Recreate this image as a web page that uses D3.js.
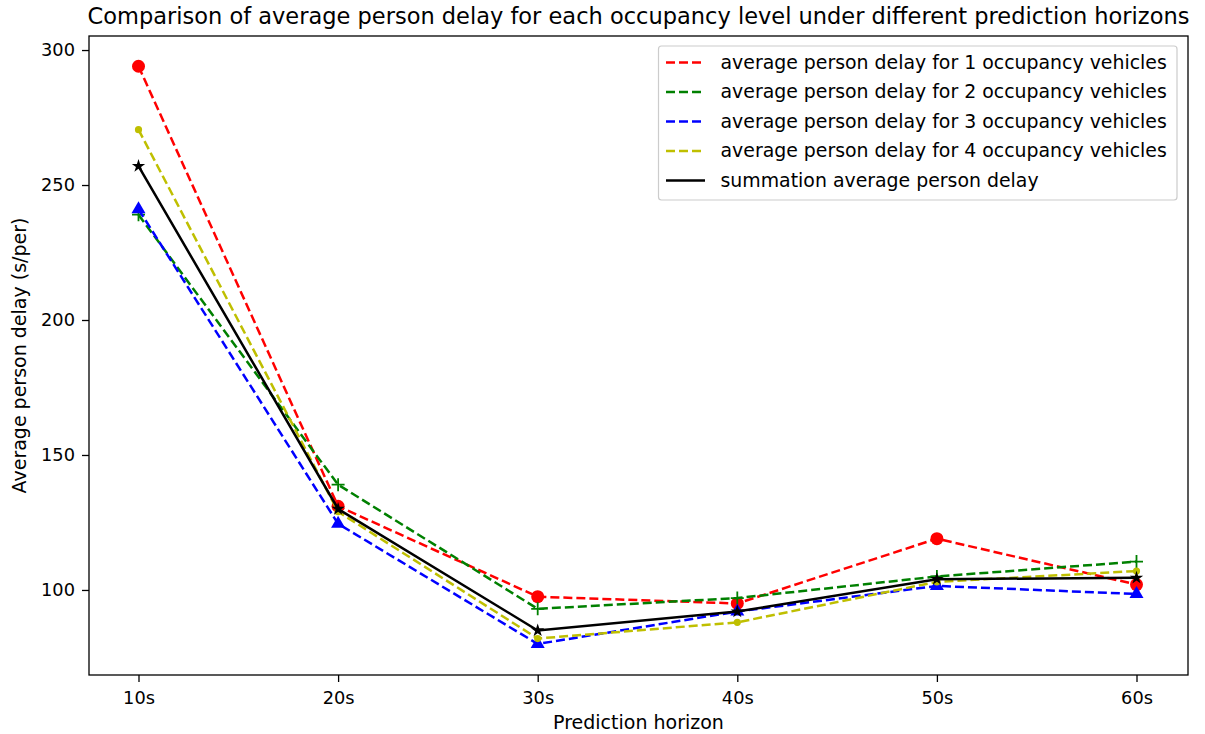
<!DOCTYPE html>
<html>
<head>
<meta charset="utf-8">
<script src="https://cdn.jsdelivr.net/npm/d3@7"></script>
<style>
  body { margin: 0; background: #fff; }
  text { font-family: "DejaVu Sans", sans-serif; fill: #000; }
</style>
</head>
<body>
<svg id="chart" width="1205" height="734"></svg>
<script>
// horizons on the x axis
var horizons = ["10s", "20s", "30s", "40s", "50s", "60s"];
var yTicks = [100, 150, 200, 250, 300];

// average person delay (s/per)
var occ1 = [294, 131, 97.5, 95, 119, 102];
var occ2 = [239, 139, 93, 97, 105, 110.5];
var occ3 = [241, 124.5, 80, 92, 101.5, 98.5];
var occ4 = [270.5, 129, 82, 88, 103, 107];
var total = [257, 130, 85, 92, 104, 104.5];

var seriesNames = [
  "average person delay for 1 occupancy vehicles",
  "average person delay for 2 occupancy vehicles",
  "average person delay for 3 occupancy vehicles",
  "average person delay for 4 occupancy vehicles",
  "summation average person delay"
];

var series = [
  { name: seriesNames[0], values: occ1, color: "#ff0000", dash: "9,4", marker: "circle" },
  { name: seriesNames[1], values: occ2, color: "#008000", dash: "9,4", marker: "plus" },
  { name: seriesNames[2], values: occ3, color: "#0000ff", dash: "9,4", marker: "triangle" },
  { name: seriesNames[3], values: occ4, color: "#bfbf00", dash: "9,4", marker: "point" },
  { name: seriesNames[4], values: total, color: "#000000", dash: null, marker: "star" }
];

var svg = d3.select("#chart");
var mLeft = 89, mRight = 1188, mTop = 36, mBottom = 675;

var x = d3.scalePoint().domain(horizons).range([138.5, 1136.5]);
var y = d3.scaleLinear().domain([68.5, 305.2]).range([mBottom, mTop]);

// title
svg.append("text")
  .attr("x", (mLeft + mRight) / 2)
  .attr("y", 24)
  .attr("text-anchor", "middle")
  .style("font-size", "22.5px")
  .text("Comparison of average person delay for each occupancy level under different prediction horizons");

// axes
var xAxis = svg.append("g")
  .attr("transform", "translate(0," + mBottom + ")")
  .call(d3.axisBottom(x).tickSize(7).tickPadding(9));
var yAxis = svg.append("g")
  .attr("transform", "translate(" + mLeft + ",0)")
  .call(d3.axisLeft(y).tickValues(yTicks).tickSize(7).tickPadding(7));

[xAxis, yAxis].forEach(function(g) {
  g.select(".domain").remove();
  g.selectAll(".tick line").attr("stroke", "#000").attr("stroke-width", 1.3);
  g.selectAll(".tick text").style("font-size", "17.8px").attr("fill", "#000")
    .style("font-family", "DejaVu Sans");
});

svg.append("text")
  .attr("x", (mLeft + mRight) / 2)
  .attr("y", 729)
  .attr("text-anchor", "middle")
  .style("font-size", "19px")
  .text("Prediction horizon");

svg.append("text")
  .attr("transform", "translate(26," + ((mTop + mBottom) / 2) + ") rotate(-90)")
  .attr("text-anchor", "middle")
  .style("font-size", "19px")
  .text("Average person delay (s/per)");

// lines
var line = d3.line()
  .x(function(d, i) { return x(horizons[i]); })
  .y(function(d) { return y(d); });

var plot = svg.append("g");

function drawMarkers(g, s) {
  var pts = g.selectAll("g.m").data(s.values).enter().append("g")
    .attr("transform", function(d, i) { return "translate(" + x(horizons[i]) + "," + y(d) + ")"; });
  if (s.marker === "circle") {
    pts.append("circle").attr("r", 6.5).attr("fill", s.color);
  } else if (s.marker === "point") {
    pts.append("circle").attr("r", 3.6).attr("fill", s.color);
  } else if (s.marker === "plus") {
    pts.append("path").attr("d", "M-6.5,0H6.5M0,-6.5V6.5")
      .attr("stroke", s.color).attr("stroke-width", 1.8);
  } else if (s.marker === "triangle") {
    pts.append("path").attr("d", d3.symbol().type(d3.symbolTriangle).size(85))
      .attr("fill", s.color);
  } else if (s.marker === "star") {
    pts.append("path").attr("d", d3.symbol().type(d3.symbolStar).size(55))
      .attr("fill", s.color);
  }
}

series.forEach(function(s) {
  var g = plot.append("g");
  g.append("path")
    .datum(s.values)
    .attr("d", line)
    .attr("fill", "none")
    .attr("stroke", s.color)
    .attr("stroke-width", 2.5)
    .attr("stroke-dasharray", s.dash);
  drawMarkers(g, s);
});

// frame
svg.append("rect")
  .attr("x", mLeft).attr("y", mTop)
  .attr("width", mRight - mLeft).attr("height", mBottom - mTop)
  .attr("fill", "none").attr("stroke", "#000").attr("stroke-width", 1.3);

// legend
var lg = svg.append("g");
lg.append("rect")
  .attr("x", 658.5).attr("y", 46)
  .attr("width", 518.5).attr("height", 154)
  .attr("rx", 3)
  .attr("fill", "#fff").attr("fill-opacity", 0.8)
  .attr("stroke", "#cccccc").attr("stroke-width", 1.2);

series.forEach(function(s, i) {
  var yy = 62.4 + i * 29.5;
  lg.append("line")
    .attr("x1", 666).attr("x2", 705)
    .attr("y1", yy).attr("y2", yy)
    .attr("stroke", s.color).attr("stroke-width", 2.5)
    .attr("stroke-dasharray", s.dash);
  lg.append("text")
    .attr("x", 720.5).attr("y", yy + 6.5)
    .style("font-size", "18.9px")
    .text(s.name);
});
</script>
</body>
</html>
